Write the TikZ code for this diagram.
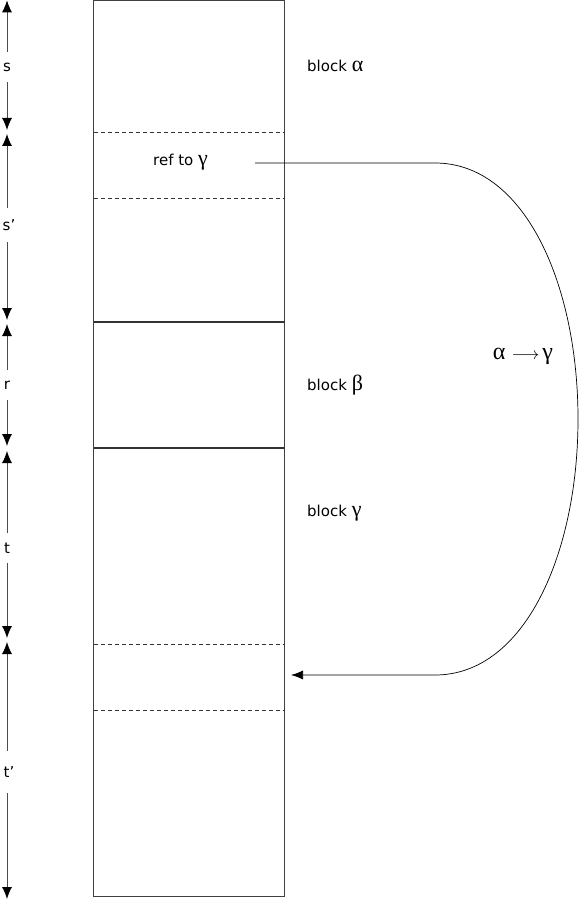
\documentclass[tikz,border=0pt]{standalone}
\usepackage{fontspec}
\setmainfont{DejaVu Sans}
\newfontfamily\greekfont{Liberation Serif}
\newcommand{\gk}[1]{{\fontsize{22}{22}\greekfont #1}}
\usetikzlibrary{arrows.meta}
\tikzset{
  thin line/.style={draw=black!75, line width=0.8pt},
  divider/.style={draw=black!80, line width=1.3pt},
  dashdiv/.style={draw=black!80, line width=0.7pt, dash pattern=on 4pt off 3pt},
  dimlabel/.style={inner sep=0pt, minimum height=30pt, font=\fontsize{15}{17}\selectfont},
  dimarrow/.style={draw=black!70, line width=0.9pt, -{Latex[length=12pt,width=10pt,black]}},
  blocklabel/.style={inner sep=0pt, anchor=west, font=\fontsize{15}{17}\selectfont},
  link/.style={draw=black, line width=0.7pt},
}
\begin{document}
\begin{tikzpicture}[x=1pt,y=-1pt]
\useasboundingbox (0,0) rectangle (580,901);
% memory column
\coordinate (mtl) at (93.5,0.5);
\coordinate (mbr) at (284.5,896);
\draw[thin line] (mtl) rectangle (mbr);
% dashed and solid dividers
\coordinate (d1l) at (93.5,132); \coordinate (d1r) at (284.5,132);
\coordinate (d2l) at (93.5,198); \coordinate (d2r) at (284.5,198);
\coordinate (d3l) at (93.5,644); \coordinate (d3r) at (284.5,644);
\coordinate (d4l) at (93.5,710); \coordinate (d4r) at (284.5,710);
\coordinate (b1l) at (93.5,322); \coordinate (b1r) at (284.5,322);
\coordinate (b2l) at (93.5,448); \coordinate (b2r) at (284.5,448);
\draw[dashdiv] (d1l) -- (d1r);
\draw[dashdiv] (d2l) -- (d2r);
\draw[dashdiv] (d3l) -- (d3r);
\draw[dashdiv] (d4l) -- (d4r);
\draw[divider] (b1l) -- (b1r);
\draw[divider] (b2l) -- (b2r);
% block labels
\node[blocklabel] (la) at (307,66) {block \gk{α}};
\node[blocklabel] (lb) at (307,385) {block \gk{β}};
\node[blocklabel] (lg) at (307,513) {block \gk{γ}};
\node[blocklabel] (ref) at (153,162) {ref to \gk{γ}};
% dimension arrows
\coordinate (p0) at (7,0.3);
\coordinate (p1a) at (7,130); \coordinate (p1b) at (7,134);
\coordinate (p2a) at (7,320); \coordinate (p2b) at (7,324);
\coordinate (p3a) at (7,446); \coordinate (p3b) at (7,451);
\coordinate (p4a) at (7,638); \coordinate (p4b) at (7,642);
\coordinate (p5) at (7,899);
\node[dimlabel] (ls) at (7,67) {s};
\node[dimlabel, minimum height=34pt] (lsp) at (9,225) {s’};
\node[dimlabel] (lr) at (7,385) {r};
\node[dimlabel] (lt) at (7,548) {t};
\node[dimlabel, minimum height=42pt] (ltp) at (9,772) {t’};
\draw[dimarrow] (ls.north) -- (p0);
\draw[dimarrow] (ls.south) -- (p1a);
\draw[dimarrow] (lsp.north -| p1b) -- (p1b);
\draw[dimarrow] (lsp.south -| p2a) -- (p2a);
\draw[dimarrow] (lr.north) -- (p2b);
\draw[dimarrow] (lr.south) -- (p3a);
\draw[dimarrow] (lt.north) -- (p3b);
\draw[dimarrow] (lt.south) -- (p4a);
\draw[dimarrow] (ltp.north -| p4b) -- (p4b);
\draw[dimarrow] (ltp.south -| p5) -- (p5);
% link from ref to gamma
\coordinate (c0) at (255,163);
\coordinate (c1) at (435,163);
\coordinate (cm) at (578,419);
\coordinate (c2) at (435,675);
\coordinate (c3) at (291,675);
\node[inner sep=0pt] (lag) at (523,356) {{\fontsize{24}{24}\greekfont α}\hspace{6pt}{\fontsize{18}{18}\selectfont$\longrightarrow$}\hspace{3pt}{\fontsize{24}{24}\greekfont γ}};
\draw[link, -{Latex[length=12pt,width=9pt]}] (c0) -- (c1)
  .. controls (525,163) and (578,285) .. (cm)
  .. controls (578,553) and (525,675) .. (c2) -- (c3);
\end{tikzpicture}
\end{document}
